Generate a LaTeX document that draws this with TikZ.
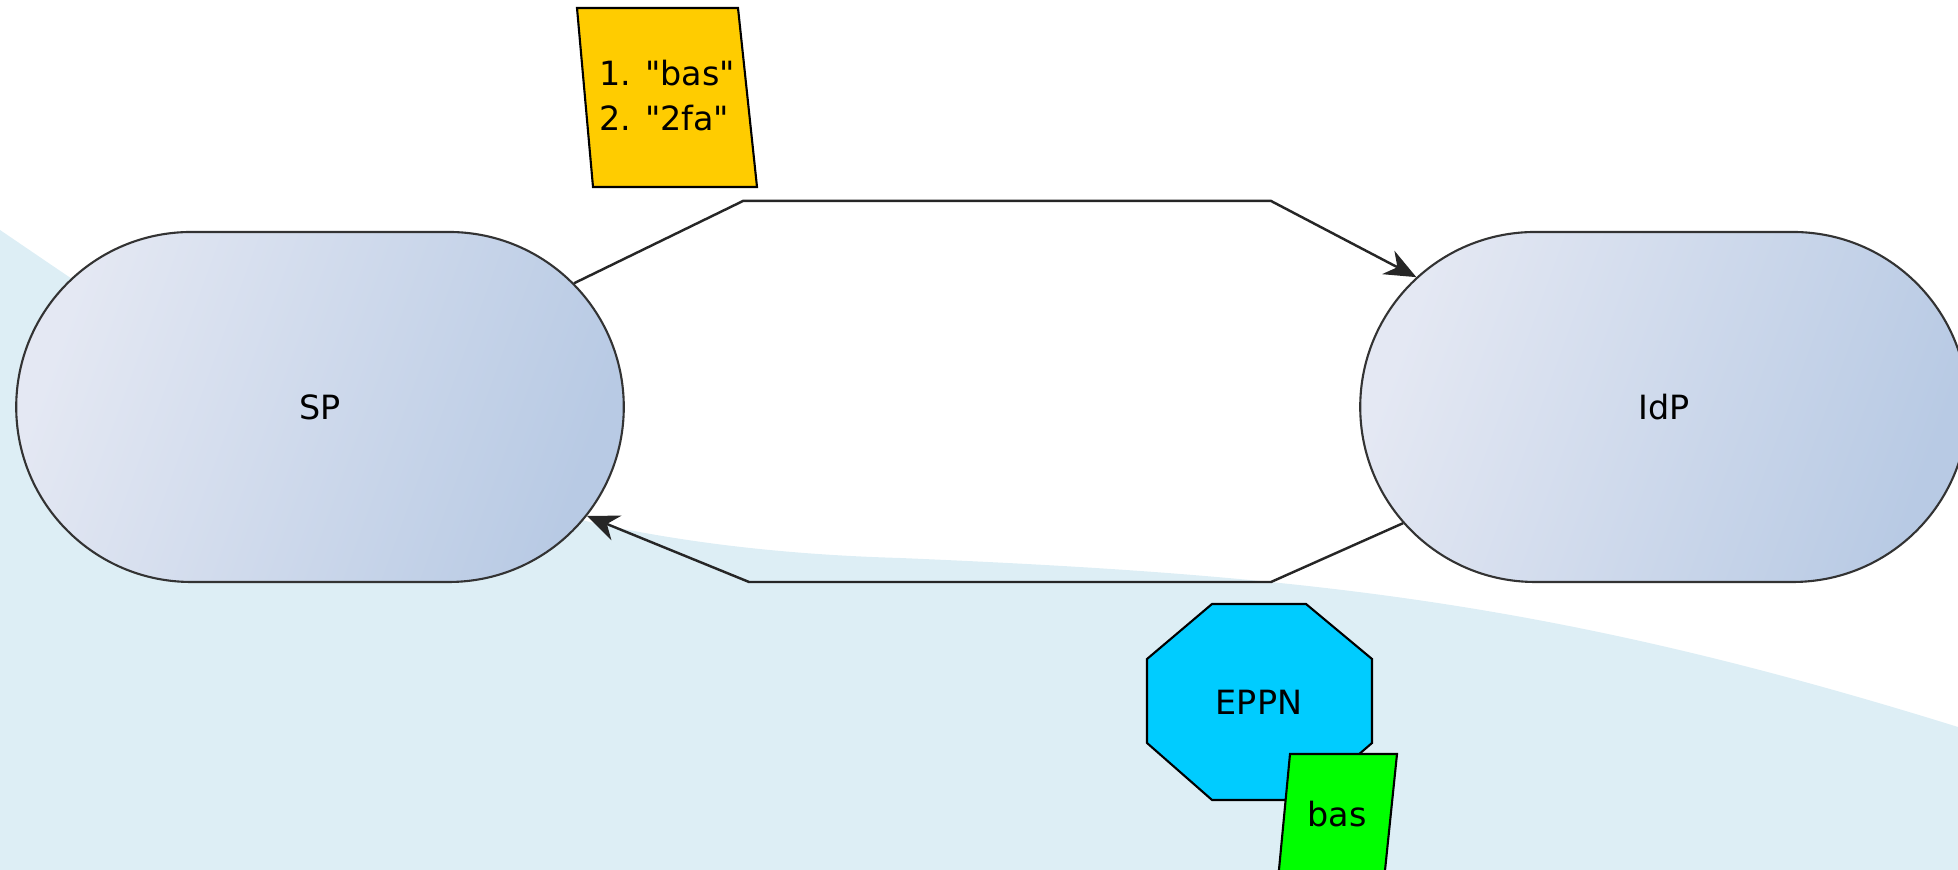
\documentclass[tikz,border=0pt]{standalone}
\usepackage{fontspec}
\setmainfont{DejaVu Sans}
\usetikzlibrary{shapes.misc,arrows.meta}
\definecolor{bgblue}{HTML}{DDEEF5}
\definecolor{pillA}{HTML}{E4E8F3}
\definecolor{pillB}{HTML}{B8CAE4}
\definecolor{noteyel}{HTML}{FFCC00}
\definecolor{octcyan}{HTML}{00CCFF}
\definecolor{taggreen}{HTML}{00FF00}
\begin{document}
\begin{tikzpicture}[
    pill/.style={rounded rectangle,draw=black!80,line width=0.6pt,minimum width=6.31cm,minimum height=3.5cm,shading=axis,top color=pillA,bottom color=pillB,shading angle=70},
    flow/.style={line width=0.7pt,draw=black!85,-{Stealth[length=9pt,width=7.5pt]}},
    box/.style={draw=black,line width=0.6pt},
    lbl/.style={font=\fontsize{9.5}{12.8}\selectfont,text=black}
]
    \useasboundingbox (0,0) rectangle (19.58,8.70);
    \clip (0,0) rectangle (19.58,8.70);
    \fill[bgblue] (0,6.40) .. controls (2.5,4.70) and (4.5,3.25) .. (9,3.12) .. controls (13,2.95) and (15.5,2.70) .. (19.58,1.43) -- (19.58,0) -- (0,0) -- cycle;
    \node[pill,lbl] at (3.20,4.63) (sp) {SP};
    \node[pill,lbl] at (16.64,4.63) (idp) {IdP};
    \coordinate (t1) at (7.43,6.69);
    \coordinate (t2) at (12.71,6.69);
    \coordinate (b1) at (12.71,2.88);
    \coordinate (b2) at (7.49,2.88);
    \draw[flow] (sp)--(t1)--(t2)--(idp);
    \draw[flow] (idp)--(b1)--(b2)--(sp);
    \filldraw[box,fill=noteyel] (5.77,8.62) -- (7.38,8.62) -- (7.57,6.83) -- (5.93,6.83) -- cycle;
    \node[lbl,align=left] at (6.67,7.74) (steps) {1. \textquotedbl bas\textquotedbl\\2. \textquotedbl 2fa\textquotedbl};
    \filldraw[box,fill=octcyan] (12.12,2.66) -- (13.06,2.66) -- (13.72,2.11) -- (13.72,1.27) -- (13.06,0.70) -- (12.12,0.70) -- (11.47,1.27) -- (11.47,2.11) -- cycle;
    \node[lbl] at (12.59,1.68) (eppn) {EPPN};
    \filldraw[box,fill=taggreen] (12.90,1.16) -- (13.97,1.16) -- (13.84,-0.10) -- (12.78,-0.10) -- cycle;
    \node[lbl,anchor=base] at (13.37,0.43) (tag) {bas};
\end{tikzpicture}
\end{document}
